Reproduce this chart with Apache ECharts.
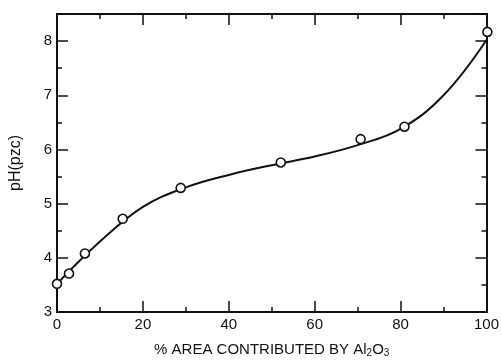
<!DOCTYPE html>
<html>
<head>
<meta charset="utf-8">
<script src="https://cdn.jsdelivr.net/npm/echarts@6/dist/echarts.min.js"></script>
<style>
html,body{margin:0;padding:0;background:#fff;}
#c{width:502px;height:363px;}
</style>
</head>
<body>
<div id="c"></div>
<script>
// measured points (open circles)
var pointX = [0, 2.8, 6.5, 15.3, 28.8, 52.1, 70.7, 80.9, 100.2];
var pointY = [3.52, 3.71, 4.08, 4.72, 5.29, 5.76, 6.19, 6.42, 8.17];
// fitted curve
var curveX = [0, 10, 20, 30, 40, 50, 60, 70, 80, 90, 100];
var curveY = [3.52, 4.30, 4.94, 5.30, 5.53, 5.71, 5.87, 6.08, 6.38, 7.00, 8.02];
// axes
var xTicks = [0, 20, 40, 60, 80, 100];
var yTicks = [3, 4, 5, 6, 7, 8];
var xTitle = '% AREA CONTRIBUTED BY Al{sub|2}O{sub|3}';
var yTitle = 'pH(pzc)';

var FONT = '"Liberation Sans", Arial, sans-serif';
var INK = '#111';
var chart = echarts.init(document.getElementById('c'), null, {renderer: 'canvas'});

function xAx(pos, labels) {
  return {
    type: 'value', position: pos, min: xTicks[0], max: xTicks[xTicks.length - 1],
    interval: xTicks[1] - xTicks[0],
    axisLine: {show: true, lineStyle: {color: INK, width: 2}},
    axisTick: {show: true, inside: true, length: 11, lineStyle: {color: INK, width: 1.5}},
    minorTick: {show: true, splitNumber: 2, length: 5, lineStyle: {color: INK, width: 1.5}},
    splitLine: {show: false},
    axisLabel: {show: labels, color: INK, fontSize: 15, fontFamily: FONT, margin: 5},
    name: labels ? xTitle : '',
    nameLocation: 'middle', nameGap: 29,
    nameTextStyle: {color: INK, fontSize: 15, fontFamily: FONT,
      rich: {sub: {fontSize: 10, fontFamily: FONT, color: INK, padding: [7, 0, 0, 0]}}}
  };
}
function yAx(pos, step, len, labels) {
  return {
    type: 'value', position: pos, min: yTicks[0], max: 8.5, interval: step,
    axisLine: {show: true, lineStyle: {color: INK, width: 2}},
    axisTick: {show: true, inside: true, length: len, lineStyle: {color: INK, width: 1.5}},
    splitLine: {show: false},
    axisLabel: {show: labels, color: INK, fontSize: 15, fontFamily: FONT, margin: 5,
      showMaxLabel: false,
      formatter: function (v) { return yTicks.indexOf(v) >= 0 ? String(v) : ''; }},
    name: labels ? yTitle : '',
    nameLocation: 'middle', nameGap: 33, nameRotate: 90,
    nameTextStyle: {color: INK, fontSize: 16, fontFamily: FONT}
  };
}

chart.setOption({
  animation: false,
  backgroundColor: '#fff',
  grid: {left: 56, right: 11, top: 14, bottom: 47},
  xAxis: [xAx('bottom', true), xAx('top', false)],
  yAxis: [yAx('left', 0.5, 5, false), yAx('left', 1, 11, true),
          yAx('right', 0.5, 5, false), yAx('right', 1, 11, false)],
  series: [
    {
      type: 'line', xAxisIndex: 0, yAxisIndex: 0,
      data: curveX.map(function (x, i) { return [x, curveY[i]]; }),
      smooth: 0.4, showSymbol: false, symbol: 'none',
      lineStyle: {color: INK, width: 2}, z: 2
    },
    {
      type: 'scatter', xAxisIndex: 0, yAxisIndex: 0, clip: false,
      data: pointX.map(function (x, i) { return [x, pointY[i]]; }),
      symbol: 'circle', symbolSize: 9,
      itemStyle: {color: '#fff', opacity: 1, borderColor: INK, borderWidth: 1.6}, z: 3
    }
  ]
});
</script>
</body>
</html>
